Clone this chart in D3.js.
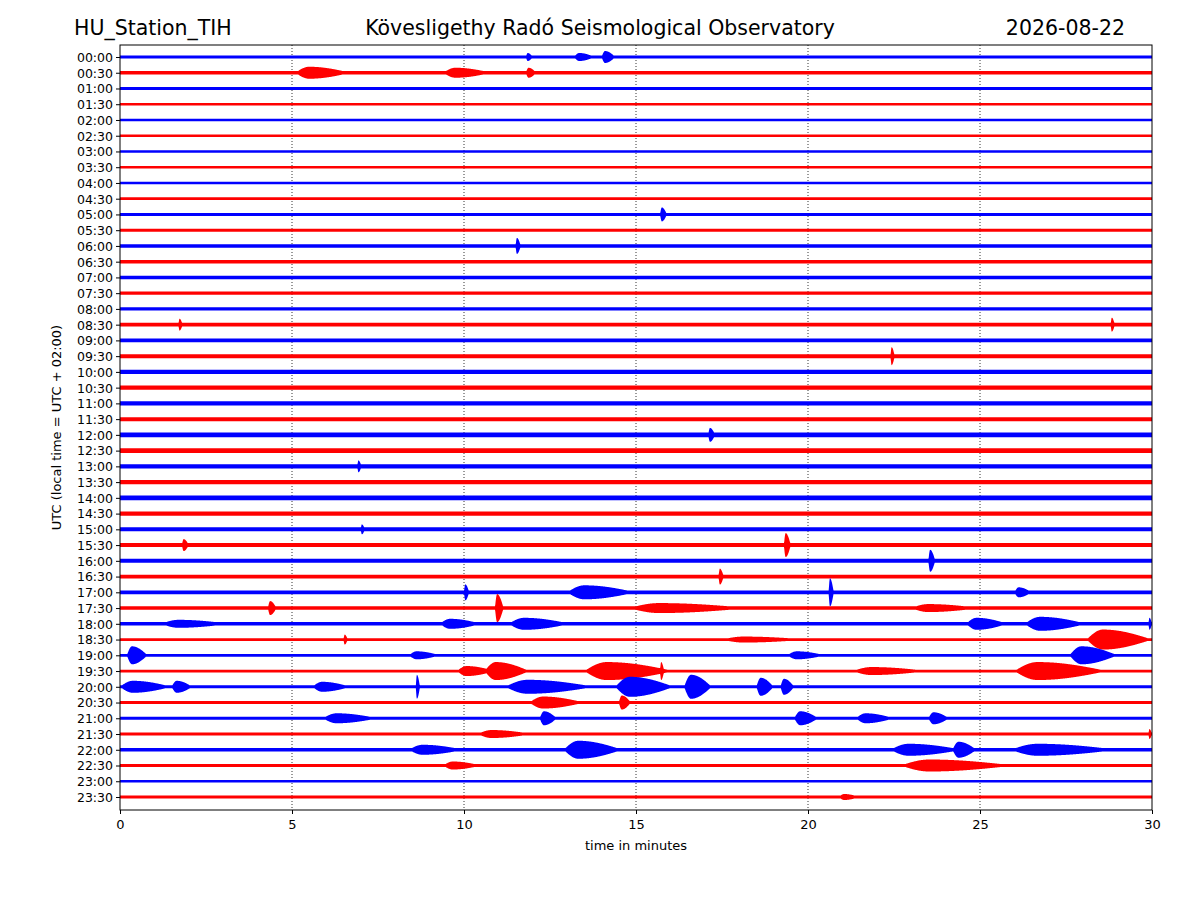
<!DOCTYPE html>
<html>
<head>
<meta charset="utf-8">
<script src="https://cdn.jsdelivr.net/npm/d3@7"></script>
<style>
  body { margin: 0; background: #fff; }
  text { font-family: "DejaVu Sans", sans-serif; }
</style>
</head>
<body>
<svg id="chart" width="1200" height="900"></svg>
<script>
// Row labels (UTC, every 30 minutes)
var rowLabels = d3.range(48).map(i => d3.format("02")(Math.floor(i / 2)) + ":" + (i % 2 ? "30" : "00"));

// Background noise half-amplitude per row (px)
var baseAmp = [1.4,1.7,1.4,1.2,1.2,1.2,1.2,1.2,1.2,1.4,
               1.5,1.5,1.7,1.7,1.7,1.7,1.7,1.9,1.9,2,
               2.2,2.2,2.2,2,2.4,2.4,2.2,2.2,2.4,2.2,
               2,2,2,1.9,1.9,1.7,1.7,1.4,1.4,1.4,
               1.5,1.5,1.5,1.5,1.7,1.5,1.2,1.4];

// Events: [row, start minute, duration minutes, peak half-amplitude px]
var events = [
  [0,13.2,0.6,4],[0,14.0,0.4,6],[0,11.8,0.2,4],
  [1,5.1,1.6,6],[1,9.4,1.4,5],[1,11.8,0.3,5],
  [10,15.7,0.2,7],[12,11.5,0.15,8],
  [17,1.7,0.12,6],[17,28.8,0.12,7],[19,22.4,0.12,9],
  [24,17.1,0.2,7],[26,6.9,0.12,6],[30,7.0,0.12,5],
  [31,19.3,0.2,12],[31,1.8,0.2,6],[32,23.5,0.2,11],[33,17.4,0.15,8],
  [34,13,2,7],[34,20.6,0.15,14],[34,10,0.15,8],[34,26,0.5,5],
  [35,10.9,0.25,14],[35,4.3,0.25,7],[35,14.8,3.5,5],[35,23,2,4],
  [36,1.2,2,4],[36,9.3,1.2,5],[36,11.3,1.8,6],[36,24.6,1.2,6],[36,26.3,1.8,7],[36,29.9,0.1,6],
  [37,28.1,1.9,10],[37,17.5,2.5,3],[37,6.5,0.12,5],
  [38,0.2,0.6,9],[38,27.6,1.4,9],[38,19.4,1.1,4],[38,8.4,0.9,4],
  [39,10.6,1.3,9],[39,13.5,2.6,9],[39,15.7,0.12,9],[39,26,2.7,9],[39,9.8,1.1,5],[39,21.3,2.2,4],
  [40,0,1.5,6],[40,1.5,0.6,6],[40,5.6,1.1,5],[40,8.6,0.12,12],[40,11.2,2.6,7],[40,14.4,1.7,10],
  [40,16.4,0.8,12],[40,18.5,0.5,9],[40,19.2,0.4,8],
  [41,11.9,1.6,6],[41,14.5,0.35,7],
  [42,5.9,1.6,5],[42,12.2,0.5,7],[42,19.6,0.7,7],[42,21.4,1.1,5],[42,23.5,0.6,6],
  [43,10.4,1.6,4],[43,29.9,0.1,5],
  [44,8.4,1.6,5],[44,12.9,1.7,9],[44,22.4,2.1,6],[44,24.2,0.7,8],[44,25.9,3.1,6],
  [45,22.7,3.3,6],[45,9.4,1.1,4],
  [47,20.9,0.6,3]
];

var xTicks = [0,5,10,15,20,25,30];
var colors = ["#0000ff", "#ff0000"];

var svg = d3.select("#chart");
var pLeft = 120, pRight = 1152, pTop = 45, pBottom = 810;

var x = d3.scaleLinear().domain([0, 30]).range([pLeft, pRight]);
var y = d3.scalePoint().domain(rowLabels).range([57, 797]);

// Grid lines
svg.append("g").selectAll("line").data(xTicks.slice(1, -1)).join("line")
  .attr("x1", d => x(d)).attr("x2", d => x(d))
  .attr("y1", pTop).attr("y2", pBottom)
  .attr("stroke", "#000").attr("stroke-width", 0.8).attr("stroke-dasharray", "1,2");

// spindle-shaped envelope around each event
function envelope(row, t) {
  var a = baseAmp[row];
  events.forEach(function (e) {
    if (e[0] !== row) return;
    var s = e[1], d = e[2], p = e[3];
    var u = (t - s) / d;
    if (u < 0 || u > 1) return;
    var v = u < 0.25 ? p * Math.sin(Math.PI / 2 * u / 0.25) : p * Math.cos(Math.PI / 2 * (u - 0.25) / 0.75);
    a = Math.max(a, v);
  });
  return a;
}

var ts = d3.range(0, 30.001, 0.01);
svg.append("clipPath").attr("id", "clip").append("rect")
  .attr("x", pLeft).attr("y", pTop).attr("width", pRight - pLeft).attr("height", pBottom - pTop);

var traces = svg.append("g").attr("clip-path", "url(#clip)");
rowLabels.forEach(function (lab, i) {
  var cy = y(lab);
  var area = d3.area()
    .x(t => x(t))
    .y0(t => cy - envelope(i, t))
    .y1(t => cy + envelope(i, t));
  traces.append("path").datum(ts).attr("d", area).attr("fill", colors[i % 2]);
});

// Frame
svg.append("rect").attr("x", pLeft).attr("y", pTop).attr("width", pRight - pLeft).attr("height", pBottom - pTop)
  .attr("fill", "none").attr("stroke", "#000").attr("stroke-width", 1);

// Axes
svg.append("g").attr("transform", "translate(0," + pBottom + ")")
  .call(d3.axisBottom(x).tickValues(xTicks).tickSizeOuter(0).tickSize(4))
  .call(g => g.select(".domain").remove())
  .selectAll("text").attr("font-size", 13).attr("dy", "0.9em");
svg.append("g").attr("transform", "translate(" + pLeft + ",0)")
  .call(d3.axisLeft(y).tickSize(4))
  .call(g => g.select(".domain").remove())
  .selectAll("text").attr("font-size", 12.5).attr("dy", "0.35em");

svg.append("text").attr("x", (pLeft + pRight) / 2).attr("y", 850).attr("text-anchor", "middle")
  .attr("font-size", 13).text("time in minutes");
svg.append("text").attr("transform", "translate(61," + ((pTop + pBottom) / 2) + ") rotate(-90)")
  .attr("text-anchor", "middle").attr("font-size", 13).text("UTC (local time = UTC + 02:00)");

// Titles
svg.append("text").attr("x", 74).attr("y", 35).attr("font-size", 20.5).text("HU_Station_TIH");
svg.append("text").attr("x", 600).attr("y", 35).attr("text-anchor", "middle").attr("font-size", 20.5)
  .text("Kövesligethy Radó Seismological Observatory");
svg.append("text").attr("x", 1125).attr("y", 35).attr("text-anchor", "end").attr("font-size", 20.5).text("2026-08-22");
</script>
</body>
</html>
